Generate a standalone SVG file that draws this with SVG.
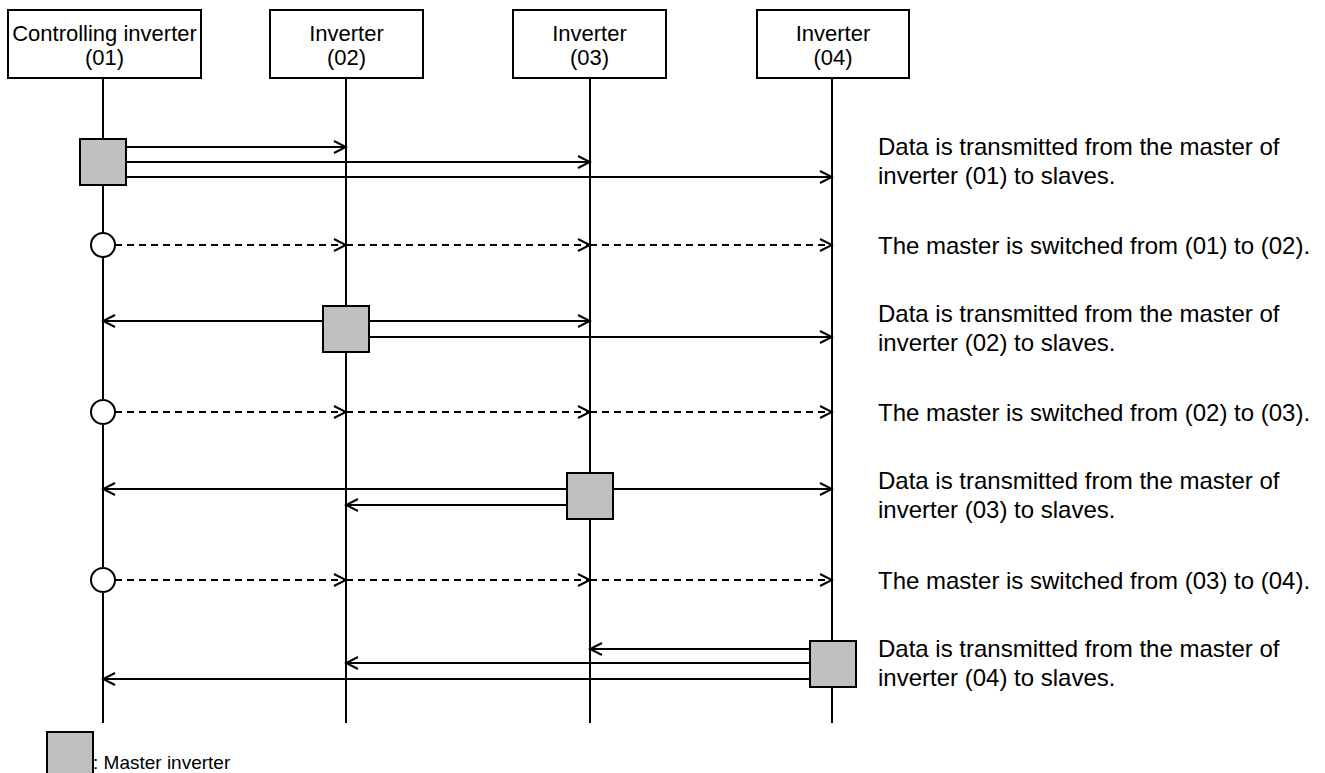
<svg xmlns="http://www.w3.org/2000/svg" width="1325" height="773" viewBox="0 0 1325 773">
<defs>
<style>
.box{fill:#fff;stroke:#000;stroke-width:2}
.life{stroke:#000;stroke-width:2}
.master{fill:#c0c0c0;stroke:#000;stroke-width:2}
.arr{stroke:#000;stroke-width:2;fill:none;marker-end:url(#ah)}
.dash{stroke:#000;stroke-width:2;fill:none;stroke-dasharray:7 5;marker-end:url(#ah)}
.sw{fill:#fff;stroke:#000;stroke-width:2}
.hd{font-family:"Liberation Sans",Arial,sans-serif;font-size:22px;text-anchor:middle;fill:#000}
.note{font-family:"Liberation Sans",Arial,sans-serif;font-size:24px;fill:#000}
.leg{font-family:"Liberation Sans",Arial,sans-serif;font-size:19px;fill:#000}
</style>
<marker id="ah" markerUnits="userSpaceOnUse" markerWidth="16" markerHeight="16" viewBox="-14 -8 16 16" refX="0" refY="0" orient="auto">
<path d="M-12,-6 L0,0 L-12,6" fill="none" stroke="#000" stroke-width="2"/>
</marker>
</defs>
<rect width="1325" height="773" fill="#fff"/>
<g id="lifelines">
<line class="life" x1="103" y1="78" x2="103" y2="723"/>
<line class="life" x1="346" y1="78" x2="346" y2="723"/>
<line class="life" x1="590" y1="78" x2="590" y2="723"/>
<line class="life" x1="832" y1="78" x2="832" y2="723"/>
</g>
<g id="node-01">
<rect class="box" x="8" y="10" width="193" height="68"/>
<text class="hd" x="104.5" y="41">Controlling inverter</text>
<text class="hd" x="104.5" y="65">(01)</text>
</g>
<g id="node-02">
<rect class="box" x="270" y="10" width="153" height="68"/>
<text class="hd" x="346.5" y="41">Inverter</text>
<text class="hd" x="346.5" y="65">(02)</text>
</g>
<g id="node-03">
<rect class="box" x="513" y="10" width="153" height="68"/>
<text class="hd" x="589.5" y="41">Inverter</text>
<text class="hd" x="589.5" y="65">(03)</text>
</g>
<g id="node-04">
<rect class="box" x="757" y="10" width="152" height="68"/>
<text class="hd" x="833" y="41">Inverter</text>
<text class="hd" x="833" y="65">(04)</text>
</g>
<g id="connectors">
<line class="arr" x1="127" y1="147" x2="346" y2="147"/>
<line class="arr" x1="127" y1="162" x2="590" y2="162"/>
<line class="arr" x1="127" y1="177" x2="832" y2="177"/>
<line class="dash" x1="115" y1="245" x2="346" y2="245"/>
<line class="dash" x1="346" y1="245" x2="590" y2="245"/>
<line class="dash" x1="590" y1="245" x2="832" y2="245"/>
<line class="arr" x1="323" y1="321" x2="103" y2="321"/>
<line class="arr" x1="370" y1="321" x2="590" y2="321"/>
<line class="arr" x1="370" y1="337" x2="832" y2="337"/>
<line class="dash" x1="115" y1="412" x2="346" y2="412"/>
<line class="dash" x1="346" y1="412" x2="590" y2="412"/>
<line class="dash" x1="590" y1="412" x2="832" y2="412"/>
<line class="arr" x1="567" y1="489" x2="103" y2="489"/>
<line class="arr" x1="613" y1="489" x2="832" y2="489"/>
<line class="arr" x1="567" y1="505" x2="346" y2="505"/>
<line class="dash" x1="115" y1="580" x2="346" y2="580"/>
<line class="dash" x1="346" y1="580" x2="590" y2="580"/>
<line class="dash" x1="590" y1="580" x2="832" y2="580"/>
<line class="arr" x1="810" y1="649" x2="590" y2="649"/>
<line class="arr" x1="810" y1="663" x2="346" y2="663"/>
<line class="arr" x1="810" y1="679" x2="103" y2="679"/>
</g>
<g id="master-01"><rect class="master" x="80" y="139" width="46" height="46"/></g>
<g id="switch-1"><circle class="sw" cx="103" cy="245" r="12"/></g>
<g id="master-02"><rect class="master" x="323" y="306" width="46" height="46"/></g>
<g id="switch-2"><circle class="sw" cx="103" cy="412" r="12"/></g>
<g id="master-03"><rect class="master" x="567" y="473" width="46" height="46"/></g>
<g id="switch-3"><circle class="sw" cx="103" cy="580" r="12"/></g>
<g id="master-04"><rect class="master" x="810" y="641" width="46" height="46"/></g>
<g id="notes">
<text class="note" x="878" y="155">Data is transmitted from the master of</text>
<text class="note" x="878" y="184">inverter (01) to slaves.</text>
<text class="note" x="878" y="254">The master is switched from (01) to (02).</text>
<text class="note" x="878" y="322">Data is transmitted from the master of</text>
<text class="note" x="878" y="351">inverter (02) to slaves.</text>
<text class="note" x="878" y="421">The master is switched from (02) to (03).</text>
<text class="note" x="878" y="489">Data is transmitted from the master of</text>
<text class="note" x="878" y="518">inverter (03) to slaves.</text>
<text class="note" x="878" y="589">The master is switched from (03) to (04).</text>
<text class="note" x="878" y="657">Data is transmitted from the master of</text>
<text class="note" x="878" y="686">inverter (04) to slaves.</text>
</g>
<g id="legend">
<rect class="master" x="47" y="732" width="46" height="46"/>
<text class="leg" x="93" y="769">: Master inverter</text>
</g>
</svg>
